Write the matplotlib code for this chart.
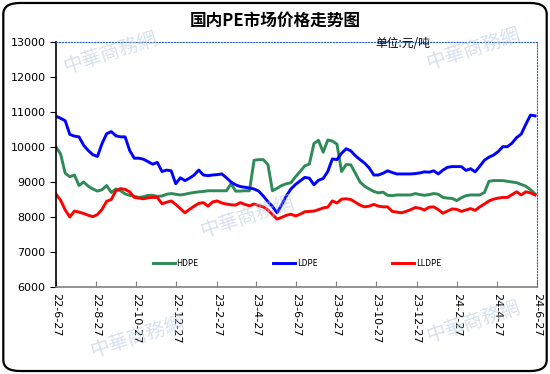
import pandas as pd
import matplotlib
matplotlib.use("Agg")
import matplotlib.pyplot as plt
from matplotlib.patches import FancyBboxPatch

plt.rcParams['font.family'] = ['Noto Sans CJK SC', 'DejaVu Sans']

# --- data (weekly) ---
dates = pd.date_range('2022-06-27', periods=105, freq='7D')

hdpe = [10000, 9800, 9250, 9150, 9200, 8900, 9000, 8880, 8800, 8740,
        8780, 8900, 8700, 8800, 8750, 8660, 8620, 8590, 8560, 8580,
        8620, 8620, 8590, 8600, 8650, 8670, 8650, 8630, 8650, 8680,
        8700, 8720, 8730, 8750, 8750, 8750, 8750, 8750, 8950, 8740,
        8740, 8750, 8750, 9620, 9640, 9640, 9500, 8750, 8820, 8900,
        8950, 8980, 9150, 9300, 9460, 9510, 10100, 10190, 9850, 10200,
        10170, 10080, 9300, 9500, 9490, 9250, 9000, 8880, 8800, 8730,
        8690, 8710, 8620, 8610, 8630, 8630, 8630, 8630, 8670, 8640,
        8620, 8640, 8670, 8650, 8560, 8540, 8530, 8470, 8550, 8610,
        8630, 8630, 8630, 8700, 9020, 9040, 9040, 9040, 9020, 9000,
        8980, 8930, 8880, 8780, 8660]

ldpe = [10880, 10820, 10750, 10360, 10310, 10290, 10050, 9900, 9780, 9730,
        10100, 10380, 10440, 10320, 10290, 10290, 9900, 9680, 9680, 9650,
        9580, 9510, 9560, 9300, 9340, 9320, 8950, 9120, 9040, 9110,
        9200, 9340, 9200, 9180, 9200, 9210, 9230, 9120, 9000, 8920,
        8870, 8850, 8830, 8800, 8740, 8600, 8440, 8300, 8120, 8350,
        8600, 8800, 8930, 9030, 9130, 9110, 8920, 9050, 9100, 9300,
        9660, 9640, 9820, 9950, 9890, 9750, 9640, 9540, 9400, 9200,
        9200, 9250, 9320, 9270, 9230, 9230, 9230, 9230, 9240, 9260,
        9290, 9280, 9320, 9230, 9340, 9420, 9440, 9440, 9440, 9330,
        9380, 9290, 9450, 9620, 9710, 9770, 9870, 10010, 10010, 10110,
        10270, 10370, 10650, 10910, 10890]

lldpe = [8650, 8480, 8200, 8000, 8170, 8140, 8100, 8050, 8010, 8070,
         8220, 8450, 8500, 8750, 8810, 8790, 8720, 8560, 8540, 8520,
         8550, 8560, 8560, 8380, 8420, 8460, 8360, 8240, 8120, 8220,
         8310, 8390, 8410, 8310, 8430, 8460, 8400, 8370, 8350, 8340,
         8410, 8360, 8320, 8370, 8330, 8290, 8200, 8070, 7940, 7990,
         8050, 8080, 8030, 8080, 8150, 8160, 8170, 8210, 8260, 8280,
         8460, 8400, 8510, 8520, 8500, 8420, 8340, 8290, 8310, 8360,
         8310, 8290, 8290, 8160, 8140, 8120, 8160, 8210, 8270, 8250,
         8200, 8280, 8290, 8210, 8110, 8170, 8230, 8220, 8160, 8200,
         8240, 8190, 8290, 8370, 8460, 8510, 8540, 8560, 8560, 8640,
         8720, 8630, 8720, 8690, 8630]

tick_dates = pd.date_range('2022-06-27', '2024-06-27', freq=pd.DateOffset(months=2))
tick_labels = [f"{d.year % 100}-{d.month}-{d.day}" for d in tick_dates]

# --- figure ---
fig = plt.figure(figsize=(5.5, 3.74), dpi=100)
ax = fig.add_axes([0.1018, 0.2326, 0.8746, 0.6551])
ax.patch.set_alpha(0)

# watermark text (approximation of the logo images)
for (wx, wy) in [(0.2, 0.86), (0.86, 0.87), (0.45, 0.42), (0.86, 0.14), (0.25, 0.1)]:
    fig.text(wx, wy, '中華商務網', rotation=18, fontsize=14, color='#b4c8de',
             alpha=0.55, ha='center', va='center', zorder=0)

ax.plot(dates, hdpe, color='#2e8b57', lw=2.1, label='HDPE')
ax.plot(dates, ldpe, color='#0000ff', lw=2.1, label='LDPE')
ax.plot(dates, lldpe, color='#ff0000', lw=2.1, label='LLDPE')

ax.set_ylim(6000, 13000)
ax.set_yticks(range(6000, 13001, 1000))
ax.set_xlim(tick_dates[0], tick_dates[-1])
ax.set_xticks(tick_dates)
ax.set_xticklabels(tick_labels, rotation=270, fontsize=8, family='DejaVu Sans')
ax.tick_params(axis='y', labelsize=8, length=4, direction='out')
ax.tick_params(axis='x', length=4, direction='in', pad=4, color='#808080')
for lab in ax.get_yticklabels():
    lab.set_family('DejaVu Sans')

ax.spines['top'].set_linestyle(':')
ax.spines['top'].set_color('#3060c0')
ax.spines['right'].set_linestyle(':')
ax.spines['right'].set_color('#3060c0')
ax.spines['left'].set_color('black')
ax.spines['left'].set_linewidth(1.2)
ax.spines['bottom'].set_color('#808080')
ax.spines['bottom'].set_linewidth(1.2)

fig.text(0.5, 0.945, '国内PE市场价格走势图', ha='center', va='center',
         fontsize=12, fontweight='bold')
fig.text(0.682, 0.885, '单位:元/吨', ha='left', va='center', fontsize=8.5)

fig.legend(loc='center', bbox_to_anchor=(0.54, 1 - 263 / 374), ncol=3,
           frameon=False, fontsize=6, handlelength=2.6, handletextpad=0.2,
           columnspacing=9)

# rounded frame
frame = FancyBboxPatch((0.006, 0.008), 0.988, 0.984,
                       boxstyle='round,pad=0,rounding_size=0.03',
                       transform=fig.transFigure, fill=False,
                       edgecolor='black', linewidth=1.6)
fig.patches.append(frame)

fig.savefig('out.png', dpi=100)
